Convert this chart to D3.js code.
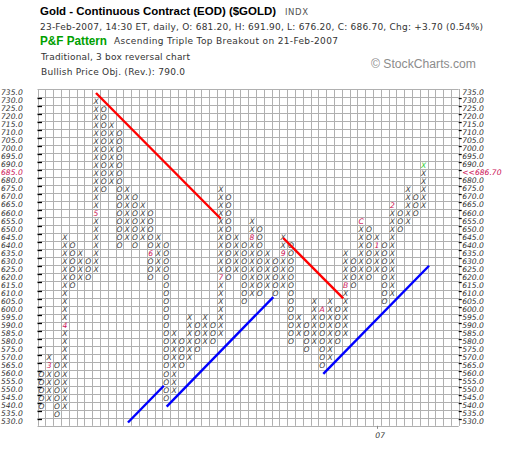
<!DOCTYPE html>
<html>
<head>
<meta charset="utf-8">
<script src="https://cdn.jsdelivr.net/npm/d3@7"></script>
<style>
  body { margin: 0; background: #fff; }
  svg { font-family: "DejaVu Sans", Verdana, sans-serif; }
</style>
</head>
<body>
<div id="chart"></div>
<script>
/* Data */
const boxSize = 5;
const priceTop = 735;
const priceBottom = 530;
const gridCols = 54;

// one entry per P&F column, left to right
const colKinds = ["O","X","O","X","O","X","O","X","O","X",
                  "O","X","O","X","O","X","O","X","O","X",
                  "O","X","O","X","O","X","O","X","O","X",
                  "O","X","O","X","O","X","O","X","O","X",
                  "O","X","O","X","O","X","O","X","O","X"];
const colLow  = [540,545,535,540,615,620,620,625,675,680,
                 640,645,640,645,620,625,545,550,565,570,
                 575,580,580,585,620,625,605,610,610,615,
                 610,615,580,585,575,580,565,570,580,585,
                 615,620,620,625,605,610,650,655,660,665];
const colHigh = [560,570,565,645,640,635,630,730,725,715,
                 710,675,670,665,660,645,640,585,580,595,
                 590,595,590,675,670,645,640,655,650,635,
                 630,645,640,595,590,605,600,605,600,635,
                 630,655,650,645,640,665,660,675,670,690];

// month markers (1-9, A, B, C) that replace a box
const monthCols   = [1, 3, 7, 14, 23, 27, 31, 36, 39, 41, 43, 45];
const monthPrices = [565, 590, 660, 635, 620, 645, 635, 600, 615, 655, 640, 665];
const monthLabels = ["3","4","5","6","7","8","9","A","B","C","1","2"];

const lastCol = 49;
const lastBoxPrice = 690;
const lastPrice = 686.70;
const lastPriceRow = 685;

const yearCols = [43];
const yearLabels = ["07"];

// trend lines, [column, price] end points
const redLines  = [[[7, 735], [23, 656.6]], [[31, 644.6], [38.7, 607]]];
const blueLines = [[[11.1, 529.6], [15.7, 552.5]],
                   [[16.06, 539.5], [29.73, 607.8]],
                   [[36.14, 559.9], [49.7, 627.3]]];

/* Layout */
const W = 520, H = 450;
const x0 = 37.5, cw = 7.8;
const y0 = 89, rh = 8.02;
const nRows = (priceTop - priceBottom) / boxSize + 1;
const arial = "'Liberation Sans', Arial, sans-serif";

const svg = d3.select("#chart").append("svg")
  .attr("width", W).attr("height", H);

const x = d3.scaleLinear()
  .domain([-0.5, gridCols - 0.5])
  .range([x0, x0 + gridCols * cw]);
const y = d3.scaleLinear()
  .domain([priceTop + boxSize / 2, priceBottom - boxSize / 2])
  .range([y0, y0 + nRows * rh]);

const prices = d3.range(priceTop, priceBottom - 1, -boxSize);

/* Header texts */
function addText(tx, ty, str, opts, family) {
  let t = svg.append("text").attr("x", tx).attr("y", ty).text(str);
  Object.entries(opts).forEach(([k, v]) => t.attr(k, v));
  if (family) t.style("font-family", family);
  return t;
}
addText(40, 15, "Gold - Continuous Contract (EOD) ($GOLD)", {
  "font-weight": "bold", "font-size": 11.5,
  "textLength": 236, "lengthAdjust": "spacingAndGlyphs", fill: "#000"}, arial);
addText(285, 15, "INDX", {"font-size": 8.5, fill: "#555", "textLength": 23, "lengthAdjust": "spacing"});
addText(40, 29.5, "23-Feb-2007, 14:30 ET, daily, O: 681.20, H: 691.90, L: 676.20, C: 686.70, Chg: +3.70 (0.54%)", {
  "font-size": 9, fill: "#333", "textLength": 443, "lengthAdjust": "spacing"});
addText(40, 44.5, "P&F Pattern", {
  "font-weight": "bold", "font-size": 12, fill: "#00a000",
  "textLength": 67, "lengthAdjust": "spacingAndGlyphs"}, arial);
addText(114, 44, "Ascending Triple Top Breakout on 21-Feb-2007", {
  "font-size": 9, fill: "#333", "textLength": 224, "lengthAdjust": "spacing"});
addText(41, 60, "Traditional, 3 box reversal chart", {
  "font-size": 9, fill: "#333", "textLength": 149, "lengthAdjust": "spacing"});
addText(41, 75, "Bullish Price Obj. (Rev.): 790.0", {
  "font-size": 9, fill: "#333", "textLength": 144, "lengthAdjust": "spacing"});
addText(371, 68, "\u00a9 StockCharts.com", {
  "font-size": 12, fill: "#8c8c8c", "textLength": 105, "lengthAdjust": "spacingAndGlyphs"}, arial);

/* Grid */
const grid = svg.append("g").attr("stroke", "#b0b0b0").attr("stroke-width", 1);
d3.range(gridCols + 1).forEach(function(i) {
  let gx = Math.round(x(i - 0.5)) + 0.5;
  grid.append("line").attr("x1", gx).attr("x2", gx)
    .attr("y1", y(priceTop + boxSize / 2)).attr("y2", y(priceBottom - boxSize / 2));
});
d3.range(nRows + 1).forEach(function(j) {
  let gy = Math.round(y(priceTop + boxSize / 2 - j * boxSize)) + 0.5;
  grid.append("line").attr("x1", x(-0.5)).attr("x2", x(gridCols - 0.5))
    .attr("y1", gy).attr("y2", gy);
});

// small ticks at both edges
const ticks = svg.append("g").attr("stroke", "#000").attr("stroke-width", 1.3);
prices.slice(0, -1).forEach(function(p) {
  let ty = Math.round(y(p - boxSize / 2)) + 1.5;
  ticks.append("line").attr("x1", x(-0.5)).attr("x2", x(-0.5) + 4.5)
    .attr("y1", ty).attr("y2", ty);
  ticks.append("line").attr("x1", x(gridCols - 0.5)).attr("x2", x(gridCols - 0.5) + 3)
    .attr("y1", ty).attr("y2", ty);
});

/* Price labels */
prices.forEach(function(p) {
  let hot = (p === lastPriceRow);
  svg.append("text")
    .attr("x", 1).attr("y", y(p) + 2.2)
    .attr("font-size", 7.6).attr("font-style", "italic")
    .attr("fill", hot ? "#cc1155" : "#333")
    .text(p.toFixed(1));
  svg.append("text")
    .attr("x", x(gridCols - 0.5) + 3.5).attr("y", y(p) + 2.2)
    .attr("font-size", 7.6).attr("font-style", "italic")
    .attr("fill", hot ? "#cc1155" : "#333")
    .text(hot ? "<<" + lastPrice.toFixed(2) : p.toFixed(1));
});

/* Boxes */
const boxes = svg.append("g")
  .attr("font-size", 7.6).attr("font-style", "italic").attr("text-anchor", "middle");
colKinds.forEach(function(kind, i) {
  for (let p = colLow[i]; p <= colHigh[i]; p += boxSize) {
    let m = monthCols.findIndex((c, k) => c === i && monthPrices[k] === p);
    let label = kind, color = "#3a3a3a";
    if (m >= 0) { label = monthLabels[m]; color = "#cc1155"; }
    if (i === lastCol && p === lastBoxPrice) color = "#33cc33";
    boxes.append("text")
      .attr("x", x(i)).attr("y", y(p) + 2.8)
      .attr("fill", color)
      .text(label);
  }
});

/* Year marks */
yearCols.forEach(function(c, k) {
  svg.append("line")
    .attr("x1", Math.round(x(c)) + 0.5).attr("x2", Math.round(x(c)) + 0.5)
    .attr("y1", y(priceBottom - boxSize / 2)).attr("y2", y(priceBottom - boxSize / 2) + 3)
    .attr("stroke", "#888");
  svg.append("text")
    .attr("x", x(c) - 1.5).attr("y", y(priceBottom - boxSize / 2) + 12)
    .attr("font-size", 7.6).attr("font-style", "italic").attr("fill", "#333")
    .text(yearLabels[k]);
});

/* Trend lines */
const line = d3.line().x(d => x(d[0])).y(d => y(d[1]));
redLines.forEach(function(seg) {
  svg.append("path").attr("d", line(seg))
    .attr("stroke", "#ff0000").attr("stroke-width", 2.4).attr("fill", "none");
});
blueLines.forEach(function(seg) {
  svg.append("path").attr("d", line(seg))
    .attr("stroke", "#0000ff").attr("stroke-width", 2.4).attr("fill", "none");
});
</script>
</body>
</html>
